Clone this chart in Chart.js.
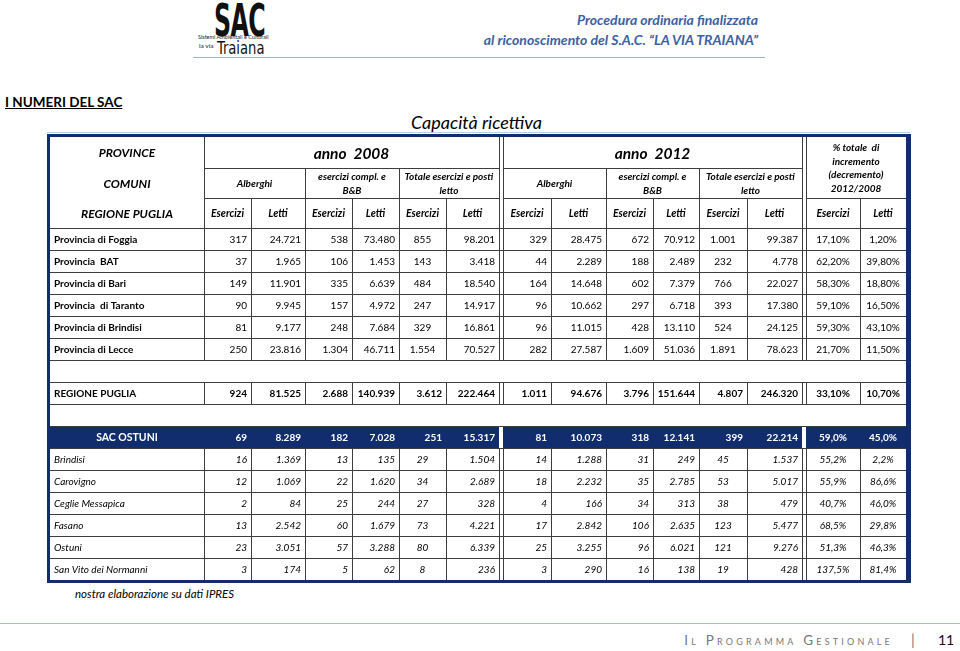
<!DOCTYPE html>
<html>
<head>
<meta charset="utf-8">
<script src="https://cdn.jsdelivr.net/npm/chart.js@4.4.1/dist/chart.umd.min.js"></script>
<style>
body{margin:0;width:960px;height:651px;position:relative;background:#fff;font-family:Lato,'Open Sans',sans-serif;overflow:hidden}
.t{position:absolute;white-space:nowrap;line-height:1}
#sac{left:214px;top:-5px;font:bold 44px 'DejaVu Sans Condensed',sans-serif;transform:scaleX(0.6);transform-origin:0 0;letter-spacing:-1px;color:#111}
#sist{left:198px;top:35px;font-size:5.5px;color:#222}
#lavia{left:199px;top:43px;font-size:6.5px;color:#222}
#traiana{left:217px;top:38px;font:17px 'DejaVu Sans Condensed',sans-serif;transform:scaleX(0.86);transform-origin:0 0;color:#111}
.blu{right:202px;font-weight:bold;font-style:italic;font-size:14px;color:#3a62a2}
#head1{top:13px}
#head2{top:33px}
#lineTop{position:absolute;left:193px;top:57px;width:572px;height:1px;background:#9fb2c9}
#numeri{left:5px;top:96px;font-weight:bold;font-size:13.5px;text-decoration:underline}
#capacita{left:411px;top:113px;font-style:italic;font-size:18px}
#lineCap{position:absolute;left:47px;top:132px;width:863px;height:1px;background:#b9cde8}
#fonte{left:75px;top:588px;font-style:italic;font-size:11.5px}
#lineBot{position:absolute;left:0;top:623px;width:960px;height:1px;background:#a9bbd1}
#prog{right:67px;top:634px;font-size:13.5px;font-variant:small-caps;letter-spacing:3.2px;color:#777}
#bar{left:911px;top:632px;font-size:15px;color:#777}
#pag{left:938px;top:633px;font-size:14px;color:#111}
canvas{position:absolute;left:47px;top:134px}
</style>
</head>
<body>
<div class="t" id="sac">SAC</div>
<div class="t" id="sist">Sistemi Ambientali e Culturali</div>
<div class="t" id="lavia">la via</div>
<div class="t" id="traiana">Traiana</div>
<div class="t blu" id="head1">Procedura ordinaria finalizzata</div>
<div class="t blu" id="head2">al riconoscimento del S.A.C. “LA VIA TRAIANA”</div>
<div id="lineTop"></div>
<div class="t" id="numeri">I NUMERI DEL SAC</div>
<div id="lineCap"></div>
<div class="t" id="capacita">Capacità ricettiva</div>
<canvas id="tabella" width="864" height="449"></canvas>
<div class="t" id="fonte">nostra elaborazione su dati IPRES</div>
<div id="lineBot"></div>
<div class="t" id="prog">Il Programma Gestionale</div>
<div class="t" id="bar">|</div>
<div class="t" id="pag">11</div>

<script>
// righe: 6 province, regione, SAC, 6 comuni
const province = ['Provincia di Foggia', 'Provincia  BAT', 'Provincia di Bari', 'Provincia  di Taranto', 'Provincia di Brindisi', 'Provincia di Lecce'];
const comuni = ['Brindisi', 'Carovigno', 'Ceglie Messapica', 'Fasano', 'Ostuni', 'San Vito dei Normanni'];
const righe = [...province, 'REGIONE PUGLIA', 'SAC OSTUNI', ...comuni];
const tipi = ['prov', 'prov', 'prov', 'prov', 'prov', 'prov', 'reg', 'sac', 'com', 'com', 'com', 'com', 'com', 'com'];

// anno 2008
const alberghiEs2008 = [317, 37, 149, 90, 81, 250, 924, 69, 16, 12, 2, 13, 23, 3];
const alberghiLe2008 = [24721, 1965, 11901, 9945, 9177, 23816, 81525, 8289, 1369, 1069, 84, 2542, 3051, 174];
const complEs2008 = [538, 106, 335, 157, 248, 1304, 2688, 182, 13, 22, 25, 60, 57, 5];
const complLe2008 = [73480, 1453, 6639, 4972, 7684, 46711, 140939, 7028, 135, 1620, 244, 1679, 3288, 62];
const totEs2008 = [855, 143, 484, 247, 329, 1554, 3612, 251, 29, 34, 27, 73, 80, 8];
const totLe2008 = [98201, 3418, 18540, 14917, 16861, 70527, 222464, 15317, 1504, 2689, 328, 4221, 6339, 236];
// anno 2012
const alberghiEs2012 = [329, 44, 164, 96, 96, 282, 1011, 81, 14, 18, 4, 17, 25, 3];
const alberghiLe2012 = [28475, 2289, 14648, 10662, 11015, 27587, 94676, 10073, 1288, 2232, 166, 2842, 3255, 290];
const complEs2012 = [672, 188, 602, 297, 428, 1609, 3796, 318, 31, 35, 34, 106, 96, 16];
const complLe2012 = [70912, 2489, 7379, 6718, 13110, 51036, 151644, 12141, 249, 2785, 313, 2635, 6021, 138];
const totEs2012 = [1001, 232, 766, 393, 524, 1891, 4807, 399, 45, 53, 38, 123, 121, 19];
const totLe2012 = [99387, 4778, 22027, 17380, 24125, 78623, 246320, 22214, 1537, 5017, 479, 5477, 9276, 428];
// % incremento 2012/2008
const pctEs = [17.1, 62.2, 58.3, 59.1, 59.3, 21.7, 33.1, 59.0, 55.2, 55.9, 40.7, 68.5, 51.3, 137.5];
const pctLe = [1.2, 39.8, 18.8, 16.5, 43.1, 11.5, 10.7, 45.0, 2.2, 86.6, 46.0, 29.8, 46.3, 81.4];

const anni = ['anno  2008', 'anno  2012'];
const gruppi = [['Alberghi'], ['esercizi compl. e', 'B&B'], ['Totale esercizi e posti', 'letto']];
const sottoColonne = ['Esercizi', 'Letti'];
const titoloPct = ['% totale  di', 'incremento', '(decremento)', '2012/2008'];
const titoliRighe = ['PROVINCE', 'COMUNI', 'REGIONE PUGLIA'];

const serie = [alberghiEs2008, alberghiLe2008, complEs2008, complLe2008, totEs2008, totLe2008,
  alberghiEs2012, alberghiLe2012, complEs2012, complLe2012, totEs2012, totLe2012];

// layout della griglia
const larghezzeColonne = [3, 154, 47, 54, 47, 47, 47, 53, 4, 48, 55, 47, 46, 48, 55, 4, 54, 46, 5];
const altezzeRighe = [3, 31, 30, 30, 22, 22, 22, 22, 22, 22, 22, 22, 22, 22, 22, 22, 22, 22, 22, 22, 3];
const slotRiga = [4, 5, 6, 7, 8, 9, 11, 13, 14, 15, 16, 17, 18, 19];

const bordiX = [0];
larghezzeColonne.forEach(w => bordiX.push(bordiX[bordiX.length - 1] + w));
const bordiY = [0];
altezzeRighe.forEach(h => bordiY.push(bordiY[bordiY.length - 1] + h));

const NAVY = '#112d6d';
const LINEA = '#3d3d3d';
const FONT = 'Lato, "Open Sans", sans-serif';

function numero(n) {
  return String(n).replace(/\B(?=(\d{3})+(?!\d))/g, '.');
}
function percento(v, dec) {
  return v.toFixed(dec).replace('.', ',') + '%';
}

const tabellaPlugin = {
  id: 'tabella',
  afterDraw(chart) {
    const ctx = chart.ctx;
    const sx = chart.scales.x, sy = chart.scales.y;
    const X = i => Math.round(sx.getPixelForValue(bordiX[i]));
    const Y = i => Math.round(sy.getPixelForValue(bordiY[i]));

    ctx.save();
    ctx.fillStyle = '#fff';
    ctx.fillRect(X(0), Y(0), X(19) - X(0), Y(21) - Y(0));

    function hLine(y, a, b) {
      ctx.fillStyle = LINEA;
      ctx.fillRect(X(a), Y(y), X(b) - X(a), 1);
    }
    function vLine(x, a, b) {
      ctx.fillStyle = LINEA;
      ctx.fillRect(X(x), Y(a), 1, Y(b) - Y(a) + 1);
    }
    function testo(str, x, y, font, align, colore) {
      ctx.font = font;
      ctx.textAlign = align;
      ctx.textBaseline = 'middle';
      ctx.fillStyle = colore || '#000';
      ctx.fillText(str, x, y);
    }

    // intestazione
    const hItalic = s => 'italic bold ' + s + 'px ' + FONT;
    const cLabel = (X(1) + X(2)) / 2;
    titoliRighe.forEach((t, i) => testo(t, cLabel, (Y(1 + i) + Y(2 + i)) / 2 + 1, hItalic(12), 'center'));

    [[2, 8], [9, 15]].forEach((blocco, b) => {
      const x0 = blocco[0];
      testo(anni[b], (X(blocco[0]) + X(blocco[1])) / 2, (Y(1) + Y(2)) / 2 + 1, hItalic(15.5), 'center');
      gruppi.forEach((g, k) => {
        const cx = (X(x0 + 2 * k) + X(x0 + 2 * k + 2)) / 2;
        const cy = (Y(2) + Y(3)) / 2;
        if (g.length === 1) testo(g[0], cx, cy + 1, hItalic(10), 'center');
        else {
          testo(g[0], cx, cy - 6, hItalic(10), 'center');
          testo(g[1], cx, cy + 8, hItalic(10), 'center');
        }
        sottoColonne.forEach((s, m) => {
          const c = x0 + 2 * k + m;
          testo(s, (X(c) + X(c + 1)) / 2, (Y(3) + Y(4)) / 2 + 1, hItalic(10.5), 'center');
        });
      });
    });
    const cPct = (X(16) + X(18)) / 2;
    titoloPct.forEach((t, i) => testo(t, cPct, Y(1) + 11 + i * 13.5, hItalic(10), 'center'));
    sottoColonne.forEach((s, m) => testo(s, (X(16 + m) + X(17 + m)) / 2, (Y(3) + Y(4)) / 2 + 1, hItalic(10.5), 'center'));

    // linee intestazione
    hLine(2, 2, 8); hLine(2, 9, 15);
    hLine(3, 2, 8); hLine(3, 9, 15); hLine(3, 16, 18);
    hLine(4, 1, 18);
    [2, 8, 9, 15, 16].forEach(x => vLine(x, 1, 4));
    [4, 6, 11, 13].forEach(x => vLine(x, 2, 4));
    [3, 5, 7, 10, 12, 14, 17].forEach(x => vLine(x, 3, 4));

    // righe dati
    righe.forEach((nome, r) => {
      const s = slotRiga[r];
      const tipo = tipi[r];
      const y0 = Y(s), y1 = Y(s + 1), cy = (y0 + y1) / 2 + 1;
      if (tipo === 'sac') {
        ctx.fillStyle = NAVY;
        [[1, 8], [9, 15], [16, 18]].forEach(p => ctx.fillRect(X(p[0]), y0 + 1, X(p[1]) - X(p[0]), y1 - y0 - 1));
      } else {
        for (let x = 2; x <= 17; x++) vLine(x, s, s + 1);
      }
      hLine(s, 1, 18);
      hLine(s + 1, 1, 18);

      let fLabel, fVal, colore = '#000';
      if (tipo === 'prov') { fLabel = 'bold 10px ' + FONT; fVal = '10px ' + FONT; }
      else if (tipo === 'reg') { fLabel = 'bold 10px ' + FONT; fVal = 'bold 10px ' + FONT; }
      else if (tipo === 'sac') { fLabel = 'bold 10.5px ' + FONT; fVal = 'bold 10px ' + FONT; colore = '#fff'; }
      else { fLabel = 'italic 10px ' + FONT; fVal = 'italic 10px ' + FONT; }

      if (tipo === 'sac') testo(nome, cLabel, cy, fLabel, 'center', colore);
      else testo(nome, X(1) + 4, cy, fLabel, 'left', colore);

      serie.forEach((arr, j) => {
        const c = j < 6 ? 2 + j : 3 + j;
        const centrato = (j === 4 || j === 10) && (tipo === 'prov' || tipo === 'com');
        const str = numero(arr[r]);
        if (centrato) testo(str, (X(c) + X(c + 1)) / 2, cy, fVal, 'center', colore);
        else testo(str, X(c + 1) - 4, cy, fVal, 'right', colore);
      });
      const dec = (tipo === 'prov' || tipo === 'reg') ? 2 : 1;
      [pctEs, pctLe].forEach((arr, k) => {
        testo(percento(arr[r], dec), (X(16 + k) + X(17 + k)) / 2, cy, fVal, 'center', colore);
      });
    });

    // bordo esterno
    ctx.fillStyle = NAVY;
    ctx.fillRect(X(0), Y(0), X(19) - X(0), Y(1) - Y(0));
    ctx.fillRect(X(0), Y(20), X(19) - X(0), Y(21) - Y(20));
    ctx.fillRect(X(0), Y(0), X(1) - X(0), Y(21) - Y(0));
    ctx.fillRect(X(18), Y(0), X(19) - X(18), Y(21) - Y(0));
    ctx.restore();
  }
};

new Chart('tabella', {
  type: 'scatter',
  data: { datasets: [] },
  options: {
    responsive: false,
    animation: false,
    devicePixelRatio: 1,
    layout: { padding: 0 },
    plugins: { legend: { display: false }, tooltip: { enabled: false } },
    scales: {
      x: { type: 'linear', display: false, min: 0, max: bordiX[bordiX.length - 1] },
      y: { type: 'linear', display: false, min: 0, max: bordiY[bordiY.length - 1], reverse: true }
    }
  },
  plugins: [tabellaPlugin]
});
</script>
</body>
</html>
